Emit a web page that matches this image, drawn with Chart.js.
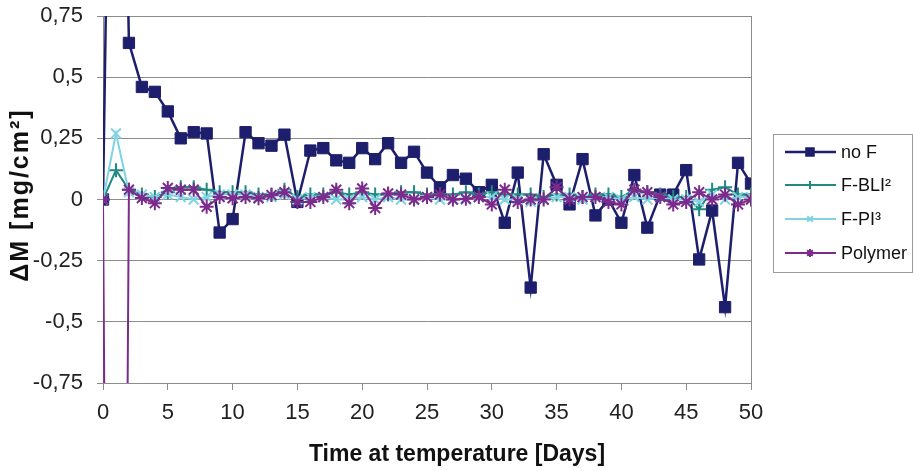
<!DOCTYPE html>
<html>
<head>
<meta charset="utf-8">
<script src="https://cdn.jsdelivr.net/npm/chart.js@4/dist/chart.umd.min.js"></script>
<style>
  html, body { margin: 0; padding: 0; background: #fff; }
  #wrap { width: 913px; height: 471px; }
</style>
</head>
<body>
<div id="wrap"><canvas id="c" width="913" height="471"></canvas></div>
<script>
const days = [0,1,2,3,4,5,6,7,8,9,10,11,12,13,14,15,16,17,18,19,20,21,22,23,24,25,26,27,28,29,30,31,32,33,34,35,36,37,38,39,40,41,42,43,44,45,46,47,48,49,50];
const seriesNames = ['no F', 'F-BLI²', 'F-PI³', 'Polymer'];
const noF = [0, 3.5, 0.64, 0.46, 0.44, 0.36, 0.25, 0.275, 0.27, -0.135, -0.08, 0.275, 0.23, 0.22, 0.265, -0.01, 0.20, 0.21, 0.16, 0.15, 0.21, 0.165, 0.23, 0.15, 0.195, 0.11, 0.05, 0.10, 0.085, 0.03, 0.06, -0.095, 0.11, -0.36, 0.185, 0.06, -0.02, 0.165, -0.065, 0.0, -0.095, 0.10, -0.115, 0.02, 0.02, 0.12, -0.245, -0.045, -0.44, 0.15, 0.065];
const fBLI = [0, 0.12, 0.04, 0.02, 0.01, 0.03, 0.05, 0.05, 0.04, 0.03, 0.03, 0.03, 0.02, 0.02, 0.04, 0.01, 0.02, 0.02, 0.03, 0.02, 0.03, 0.02, 0.02, 0.03, 0.03, 0.02, 0.02, 0.02, 0.03, 0.02, 0.03, 0.02, 0.02, 0.02, 0.01, 0.02, 0.02, 0.01, 0.02, 0.02, 0.01, 0.04, 0.03, 0.02, 0.01, 0.01, -0.04, 0.04, 0.05, 0.02, 0.02];
const fPI = [0, 0.27, 0.03, 0.02, 0.01, 0.02, 0.01, 0.0, 0.01, 0.02, 0.02, 0.02, 0.01, 0.01, 0.02, 0.0, 0.01, 0.01, 0.0, 0.0, 0.01, 0.0, 0.01, 0.0, 0.0, 0.01, 0.0, 0.0, 0.0, 0.01, 0.01, 0.0, 0.0, -0.01, 0.0, 0.01, 0.01, 0.0, 0.01, 0.01, 0.0, 0.01, 0.0, 0.01, 0.0, 0.0, -0.01, 0.02, 0.0, 0.01, 0.01];
const polymer = [0, -8, 0.04, 0.006, -0.015, 0.047, 0.04, 0.04, -0.03, 0.01, 0.005, 0.01, 0.005, 0.018, 0.03, -0.01, -0.01, 0.01, 0.04, -0.015, 0.045, -0.035, 0.025, 0.02, 0.0, 0.01, 0.02, 0.0, 0.003, 0.01, -0.02, 0.04, -0.01, 0.0, 0.0, 0.05, 0.0, 0.01, 0.01, -0.01, -0.02, 0.04, 0.03, 0.01, -0.02, -0.01, 0.03, 0.0, 0.02, -0.02, 0.0];
const yTickValues = [-0.75, -0.5, -0.25, 0, 0.25, 0.5, 0.75];
const xTickValues = [0, 5, 10, 15, 20, 25, 30, 35, 40, 45, 50];
const xTitle = 'Time at temperature [Days]';
const yTitle = 'ΔM [mg/cm²]';

const colors = ['#1d1f6c', '#1f8a80', '#80d4e2', '#7c2b8c'];
const styles = ['rect', 'cross', 'crossRot', 'star'];
const radii = [8, 7, 7, 7];
const widths = [2.5, 2, 2, 2];
const orders = [4, 3, 2, 1];
const allSeries = [noF, fBLI, fPI, polymer];

const fmt = v => String(v).replace('.', ',');

const datasets = allSeries.map((arr, i) => ({
  label: seriesNames[i],
  data: days.map((d, j) => ({ x: d, y: arr[j] })),
  borderColor: colors[i],
  backgroundColor: colors[i],
  borderWidth: widths[i],
  pointStyle: styles[i],
  pointRadius: radii[i],
  pointBorderWidth: i === 0 ? 1 : 2,
  pointBorderColor: colors[i],
  pointBackgroundColor: colors[i],
  tension: 0,
  order: orders[i]
}));

const deco = {
  id: 'deco',
  afterDraw(chart) {
    const ctx = chart.ctx;
    const a = chart.chartArea;
    ctx.save();
    ctx.strokeStyle = '#8c8c8c';
    ctx.lineWidth = 1;
    ctx.beginPath();
    ctx.moveTo(Math.round(a.right) + 0.5, a.top);
    ctx.lineTo(Math.round(a.right) + 0.5, a.bottom);
    ctx.stroke();
    ctx.fillStyle = '#111';
    ctx.font = 'bold 23px "Liberation Sans", Arial, sans-serif';
    ctx.textAlign = 'center';
    ctx.textBaseline = 'middle';
    ctx.fillText(xTitle, 457, 455);
    ctx.save();
    ctx.translate(21, 195);
    ctx.rotate(-Math.PI / 2);
    ctx.font = 'bold 25px "Liberation Sans", Arial, sans-serif';
    try { ctx.letterSpacing = '2px'; } catch (e) {}
    ctx.fillText(yTitle, 0, 0);
    ctx.restore();
    const lx = 773, ly = 134, lw = 139, lh = 138;
    ctx.strokeStyle = '#9a9a9a';
    ctx.lineWidth = 1;
    ctx.strokeRect(lx + 0.5, ly + 0.5, lw, lh);
    const rowsY = [152, 185, 219, 253];
    ctx.font = '18px "Liberation Sans", Arial, sans-serif';
    ctx.textAlign = 'left';
    chart.data.datasets.forEach((ds, i) => {
      const y = rowsY[i];
      ctx.strokeStyle = ds.borderColor;
      ctx.lineWidth = ds.borderWidth;
      ctx.beginPath();
      ctx.moveTo(785, y);
      ctx.lineTo(836, y);
      ctx.stroke();
      ctx.fillStyle = ds.borderColor;
      Chart.helpers.drawPoint(ctx, {
        pointStyle: ds.pointStyle,
        radius: i === 0 ? 5 : 4,
        rotation: 0,
        borderWidth: 1.5
      }, 810, y);
      ctx.fillStyle = '#111';
      ctx.fillText(ds.label, 841, y + 1);
    });
    ctx.restore();
  }
};

new Chart(document.getElementById('c'), {
  type: 'line',
  data: { datasets },
  options: {
    responsive: false,
    animation: false,
    devicePixelRatio: 1,
    layout: { padding: { top: 16, right: 162, bottom: 0, left: 0 } },
    plugins: { legend: { display: false }, tooltip: { enabled: false } },
    scales: {
      x: {
        type: 'linear',
        min: 0, max: 50,
        afterFit(s) { s.height = 88; s.paddingLeft = 0; s.paddingRight = 0; },
        afterBuildTicks(s) { s.ticks = xTickValues.map(v => ({ value: v })); },
        grid: { drawOnChartArea: false, drawTicks: true, tickLength: 7, color: '#8c8c8c' },
        border: { color: '#8c8c8c', width: 1 },
        ticks: { color: '#222', font: { family: '"Liberation Sans", Arial, sans-serif', size: 22 }, padding: 10, maxRotation: 0 }
      },
      y: {
        min: -0.75, max: 0.75,
        afterFit(s) { s.width = 103; s.paddingTop = 0; s.paddingBottom = 0; },
        afterBuildTicks(s) { s.ticks = yTickValues.map(v => ({ value: v })); },
        grid: { drawOnChartArea: true, drawTicks: true, tickLength: 6, color: '#8c8c8c' },
        border: { color: '#8c8c8c', width: 1 },
        ticks: { color: '#222', font: { family: '"Liberation Sans", Arial, sans-serif', size: 22 }, padding: 14, callback: v => fmt(v) }
      }
    }
  },
  plugins: [deco]
});
</script>
</body>
</html>
